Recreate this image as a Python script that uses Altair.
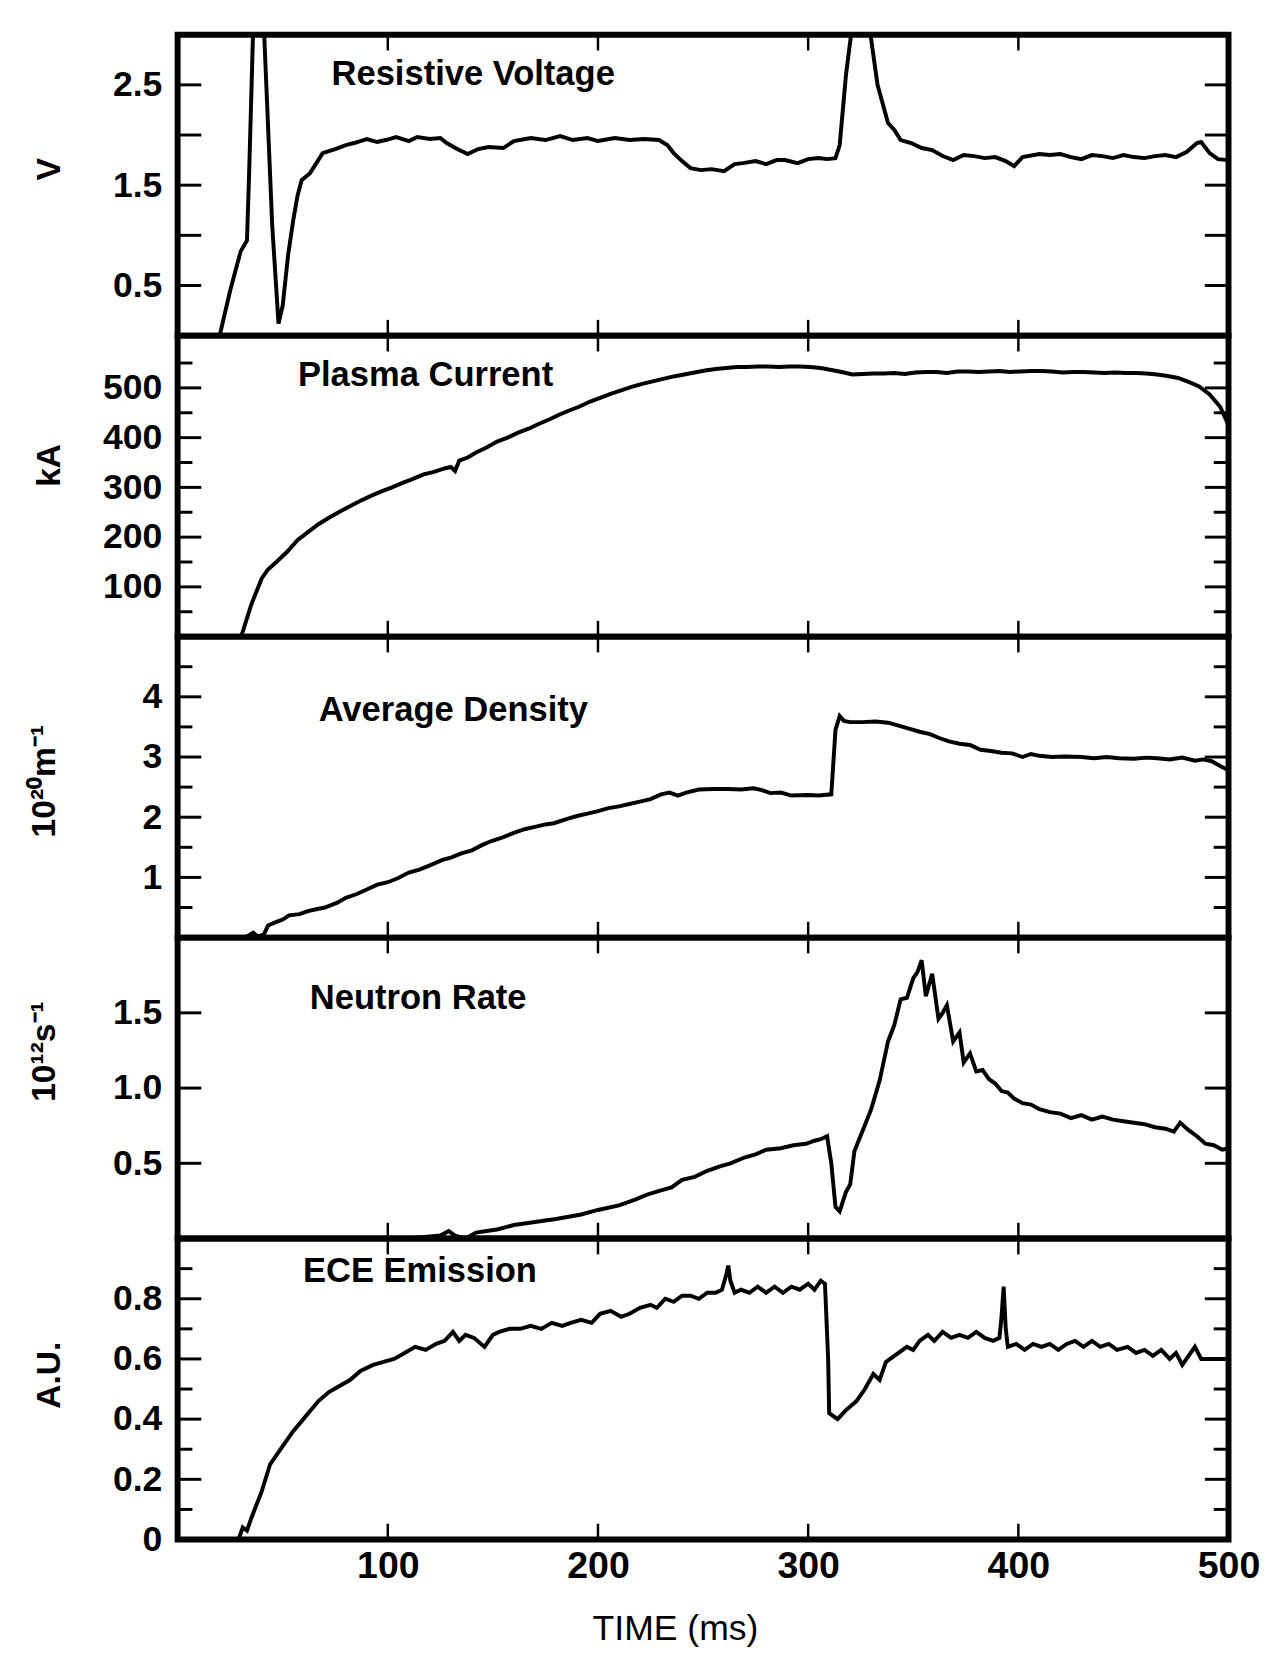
import altair as alt
import pandas as pd

# ---------------- data ----------------
x_tick_labels = [100, 200, 300, 400, 500]
x_inner_ticks = [100, 200, 300, 400]

volt_t = [0, 20, 25, 30, 33, 34, 36, 41, 43, 45, 48, 50, 52.6, 55, 57, 59, 63, 69, 75, 80, 84, 90, 95, 99,
          104, 110, 114, 120, 125, 128, 133, 138, 143, 148, 155, 160, 168, 175, 182, 188, 195, 200, 208,
          215, 222, 229, 233, 236, 240, 244, 249, 254, 260, 265, 269, 275, 280, 285, 289, 295, 300, 305,
          309, 313, 315, 318, 321, 329, 333, 338, 341, 344, 349, 354, 359, 364, 369, 374, 379, 384, 389,
          394, 398, 402, 410, 415, 420, 425, 430, 435, 440, 445, 450, 455, 460, 465, 470, 475, 480, 485,
          487, 491, 495, 500]
volt_v = [0, 0.0, 0.45, 0.84, 0.95, 1.6, 3.1, 3.1, 2.1, 1.1, 0.12, 0.3, 0.81, 1.15, 1.39, 1.55, 1.62, 1.82,
          1.86, 1.9, 1.92, 1.96, 1.93, 1.95, 1.98, 1.94, 1.98, 1.96, 1.97, 1.92, 1.86, 1.81, 1.86, 1.88,
          1.87, 1.94, 1.97, 1.95, 1.99, 1.95, 1.97, 1.94, 1.97, 1.95, 1.96, 1.95, 1.9, 1.82, 1.74, 1.67,
          1.65, 1.66, 1.64, 1.71, 1.72, 1.74, 1.71, 1.75, 1.75, 1.72, 1.76, 1.77, 1.76, 1.77, 1.9, 2.6,
          3.1, 3.1, 2.5, 2.12, 2.05, 1.95, 1.92, 1.87, 1.85, 1.79, 1.75, 1.8, 1.79, 1.77, 1.78, 1.74,
          1.69, 1.78, 1.81, 1.8, 1.81, 1.78, 1.76, 1.8, 1.79, 1.77, 1.8, 1.78, 1.77, 1.79, 1.8, 1.78,
          1.83, 1.92, 1.93, 1.82, 1.76, 1.75]

curr_t = [30, 31, 35, 40, 43, 47, 52, 57, 62, 67, 72, 77, 82, 87, 92, 97, 102, 107, 112, 117, 122, 127,
          130, 132, 134, 138, 142, 147, 152, 157, 162, 167, 172, 177, 181, 186, 191, 196, 201, 206, 211,
          216, 221, 226, 231, 236, 241, 246, 251, 256, 261, 266, 271, 276, 281, 286, 291, 296, 301, 306,
          311, 316, 321, 326, 331, 336, 341, 346, 351, 356, 361, 366, 371, 376, 381, 386, 391, 396, 401,
          406, 411, 416, 421, 426, 431, 436, 441, 446, 451, 456, 461, 466, 471, 476, 481, 486, 491, 496,
          500]
curr_v = [0, 10, 64, 117, 135, 150, 170, 194, 210, 226, 239, 251, 262, 273, 283, 292, 300, 309, 317, 326,
          331, 338, 341, 333, 354, 360, 370, 380, 392, 400, 410, 418, 428, 437, 445, 454, 462, 472, 480,
          488, 495, 502, 508, 513, 518, 523, 527, 531, 535, 538, 540, 542, 542, 543, 543, 542, 543, 543,
          542, 540, 536, 532, 527, 528, 529, 529, 530, 528, 531, 532, 532, 530, 533, 533, 532, 533, 534,
          532, 533, 534, 534, 533, 531, 532, 532, 531, 530, 531, 530, 530, 529, 527, 524, 520, 512, 503,
          487, 462, 425]

dens_t = [30, 33, 36, 38, 41, 43, 47, 50, 53, 58, 62, 66, 70, 76, 80, 85, 90, 95, 100, 105, 110, 115, 120,
          126, 130, 135, 140, 145, 149, 155, 160, 165, 170, 175, 179, 185, 190, 195, 200, 205, 210, 215,
          220, 225, 230, 234, 238, 242, 248, 255, 262, 268, 274, 278, 282, 287, 292, 300, 305, 311, 313,
          315, 317, 320, 326, 332, 338, 343, 348, 353, 358, 362, 367, 372, 377, 382, 387, 392, 397, 402,
          406, 410, 416, 422, 430, 436, 442, 448, 455, 461, 466, 472, 478, 484, 488, 492, 496, 500]
dens_v = [0, 0.02, 0.08, 0.02, 0.05, 0.2, 0.26, 0.3, 0.37, 0.39, 0.44, 0.47, 0.5, 0.58, 0.66, 0.72, 0.8,
          0.88, 0.92, 0.99, 1.08, 1.13, 1.2, 1.29, 1.33, 1.4, 1.45, 1.54, 1.6, 1.67, 1.74, 1.8, 1.84, 1.88,
          1.9, 1.97, 2.02, 2.06, 2.1, 2.15, 2.18, 2.22, 2.26, 2.3, 2.38, 2.41, 2.36, 2.41, 2.46, 2.47, 2.47,
          2.46, 2.48, 2.45, 2.4, 2.41, 2.36, 2.37, 2.36, 2.38, 3.45, 3.68, 3.6, 3.58, 3.58, 3.59, 3.57,
          3.52, 3.47, 3.42, 3.38, 3.32, 3.26, 3.22, 3.2, 3.12, 3.1, 3.07, 3.06, 3.0, 3.05, 3.02, 3.0, 3.01,
          3.0, 2.98, 3.0, 2.98, 2.97, 2.99, 2.98, 2.96, 2.99, 2.94, 2.96, 2.93, 2.85, 2.78]

neut_t = [110, 125, 129, 132, 137, 142, 147, 152, 160, 170, 180, 192, 200, 210, 218, 223, 230, 235, 240,
          246, 252, 258, 263, 270, 275, 280, 287, 293, 299, 303, 306, 309, 311, 313, 315, 318, 320, 322,
          326, 330, 334, 338, 341, 344, 347, 350, 352, 354, 356, 359, 362, 364, 366, 369, 372, 374, 377,
          380, 383, 386, 389, 392, 395, 398, 402, 406, 410, 415, 420, 425, 430, 435, 440, 445, 450, 455,
          460, 465, 470, 474, 477, 481, 485, 489, 493, 497, 500]
neut_v = [0.0, 0.02, 0.05, 0.02, 0.0, 0.04, 0.05, 0.06, 0.09, 0.11, 0.13, 0.16, 0.19, 0.22, 0.26, 0.29,
          0.32, 0.34, 0.39, 0.41, 0.45, 0.48, 0.5, 0.54, 0.56, 0.59, 0.6, 0.62, 0.63, 0.65, 0.66, 0.68,
          0.5, 0.21, 0.18, 0.31, 0.36, 0.58, 0.72, 0.86, 1.05, 1.31, 1.42, 1.59, 1.6, 1.73, 1.77, 1.85,
          1.61, 1.76, 1.46, 1.5, 1.55, 1.31, 1.37, 1.17, 1.23, 1.11, 1.12, 1.06, 1.03, 0.98, 0.97, 0.93,
          0.9, 0.89, 0.86, 0.84, 0.83, 0.8, 0.82, 0.79, 0.81, 0.79, 0.78, 0.77, 0.76, 0.74, 0.73, 0.71,
          0.77, 0.72, 0.68, 0.63, 0.62, 0.59, 0.6]

ece_t = [29, 31, 33, 35, 40, 44, 50, 55, 61, 67, 72, 77, 82, 87, 93, 98, 103, 108, 113, 118, 123, 127,
         131, 134, 137, 141, 146, 150, 153, 158, 163, 168, 173, 178, 183, 187, 192, 197, 201, 206, 211,
         215, 220, 225, 228, 232, 236, 240, 244, 248, 252, 256, 259, 261, 262, 263, 265, 268, 272, 276,
         280, 284, 288, 292, 296, 300, 303, 306, 308, 309.5, 310, 314, 318, 323, 327, 331, 334, 337, 339,
         343, 347, 350, 353, 357, 360, 364, 368, 372, 376, 380, 384, 388, 391, 392, 393, 394, 395, 399,
         403, 407, 411, 415, 419, 423, 427, 431, 435, 439, 443, 447, 452, 456, 460, 464, 468, 472, 475,
         478, 481, 484, 487, 491, 496, 500]
ece_v = [0, 0.04, 0.03, 0.07, 0.16, 0.25, 0.31, 0.36, 0.41, 0.46, 0.49, 0.51, 0.53, 0.56, 0.58, 0.59, 0.6,
         0.62, 0.64, 0.63, 0.65, 0.66, 0.69, 0.66, 0.68, 0.67, 0.64, 0.68, 0.69, 0.7, 0.7, 0.71, 0.7, 0.72,
         0.71, 0.72, 0.73, 0.72, 0.75, 0.76, 0.74, 0.75, 0.77, 0.78, 0.77, 0.8, 0.79, 0.81, 0.81, 0.8,
         0.82, 0.82, 0.83, 0.88, 0.91, 0.86, 0.82, 0.83, 0.82, 0.84, 0.82, 0.84, 0.82, 0.84, 0.83, 0.85,
         0.83, 0.86, 0.85, 0.6, 0.42, 0.4, 0.43, 0.46, 0.5, 0.55, 0.53, 0.59, 0.6, 0.62, 0.64, 0.63, 0.66,
         0.68, 0.66, 0.69, 0.67, 0.68, 0.67, 0.69, 0.67, 0.66, 0.67, 0.74, 0.84, 0.7, 0.64, 0.65, 0.63,
         0.65, 0.64, 0.65, 0.63, 0.65, 0.66, 0.64, 0.66, 0.64, 0.65, 0.63, 0.64, 0.62, 0.63, 0.61, 0.63,
         0.6, 0.62, 0.58, 0.61, 0.64, 0.6, 0.6, 0.6, 0.6]

panel_titles = ["Resistive Voltage", "Plasma Current", "Average Density", "Neutron Rate", "ECE Emission"]
y_titles = ["V", "kA", "10²⁰m⁻¹", "10¹²s⁻¹", "A.U."]

volt_labels = [0.5, 1.5, 2.5]
volt_ticks = [0.5, 1.0, 1.5, 2.0, 2.5]
curr_labels = [100, 200, 300, 400, 500]
curr_minor = [50, 150, 250, 350, 450, 550]
dens_labels = [1, 2, 3, 4]
dens_minor = [0.5, 1.5, 2.5, 3.5, 4.5]
neut_labels = [0.5, 1.0, 1.5]
ece_labels = [0, 0.2, 0.4, 0.6, 0.8]
ece_minor = [0.1, 0.3, 0.5, 0.7, 0.9]

# ---------------- layout / style ----------------
W = 1065
H = 305
FONT = "Liberation Sans"


def panel(t, v, domain, title, tpos, ytitle, ypos, labels, major, minor, label_expr, bottom=False):
    xs = alt.Scale(domain=[0, 500], nice=False, zero=False)
    ys = alt.Scale(domain=domain, nice=False, zero=False)
    df = pd.DataFrame({"t": t, "v": v})
    if bottom:
        xaxis = alt.Axis(values=x_tick_labels, ticks=False, domain=False, grid=False,
                         labelFont=FONT, labelFontSize=38, labelFontWeight="bold", labelPadding=8,
                         labelFlush=False, labelColor="black",
                         title="TIME (ms)", titleFont=FONT, titleFontSize=36, titleFontWeight="normal",
                         titleX=504, titleY=90, titleBaseline="middle", titleColor="black")
    else:
        xaxis = None
    yaxis = alt.Axis(values=labels, ticks=False, domain=False, grid=False,
                     labelFont=FONT, labelFontSize=36, labelFontWeight="bold", labelPadding=16,
                     labelColor="black", labelExpr=label_expr,
                     title=ytitle, titleFont=FONT, titleFontSize=34, titleFontWeight="bold",
                     titleAngle=270, titleX=ypos[0], titleY=ypos[1], titleAlign="center",
                     titleBaseline="middle", titleColor="black")
    line = alt.Chart(df).mark_line(color="black", strokeWidth=4, clip=True).encode(
        x=alt.X("t:Q", scale=xs, axis=xaxis),
        y=alt.Y("v:Q", scale=ys, axis=yaxis),
    )
    layers = [line]
    tick_specs = [(major, 24), (minor, 15)]
    for vals, ln in tick_specs:
        if not vals:
            continue
        tdf = pd.DataFrame({"v": vals})
        base = alt.Chart(tdf).mark_rule(color="black", strokeWidth=3)
        layers.append(base.encode(y=alt.Y("v:Q", scale=ys), x=alt.value(0), x2=alt.value(ln)))
        layers.append(base.encode(y=alt.Y("v:Q", scale=ys), x=alt.value(W), x2=alt.value(W - ln)))
    xdf = pd.DataFrame({"t": x_inner_ticks})
    xb = alt.Chart(xdf).mark_rule(color="black", strokeWidth=2.5)
    layers.append(xb.encode(x=alt.X("t:Q", scale=xs), y=alt.value(H), y2=alt.value(H - 16)))
    layers.append(xb.encode(x=alt.X("t:Q", scale=xs), y=alt.value(0), y2=alt.value(16)))
    tx = alt.Chart(pd.DataFrame({"label": [title]})).mark_text(
        align="left", baseline="middle", font=FONT, fontSize=35, fontWeight="bold", color="black"
    ).encode(text="label:N", x=alt.value(tpos[0]), y=alt.value(tpos[1]))
    layers.append(tx)
    return alt.layer(*layers).properties(width=W, height=H)


p1 = panel(volt_t, volt_v, [0, 3], panel_titles[0], (156, 40), y_titles[0], (-130, 136),
           volt_labels, volt_ticks, [], "format(datum.value, '.1f')")
p2 = panel(curr_t, curr_v, [0, 605], panel_titles[1], (122, 40), y_titles[1], (-130, 131),
           curr_labels, curr_labels, curr_minor, "format(datum.value, 'd')")
p3 = panel(dens_t, dens_v, [0, 5], panel_titles[2], (143, 74), y_titles[2], (-135, 146),
           dens_labels, dens_labels, dens_minor, "format(datum.value, 'd')")
p4 = panel(neut_t, neut_v, [0, 2], panel_titles[3], (134, 61), y_titles[3], (-135, 115),
           neut_labels, neut_labels, [], "format(datum.value, '.1f')")
p5 = panel(ece_t, ece_v, [0, 1.0], panel_titles[4], (127, 33), y_titles[4], (-130, 138),
           ece_labels, ece_labels, ece_minor,
           "datum.value == 0 ? '0' : format(datum.value, '.1f')", bottom=True)

chart = alt.vconcat(p1, p2, p3, p4, p5, spacing=0, bounds="flush").properties(
    padding={"left": 25, "top": 19, "right": 5, "bottom": 5},
    background="white",
).configure_view(stroke="black", strokeWidth=6)

chart.save("out.html", embed_options={"renderer": "svg", "actions": False})
